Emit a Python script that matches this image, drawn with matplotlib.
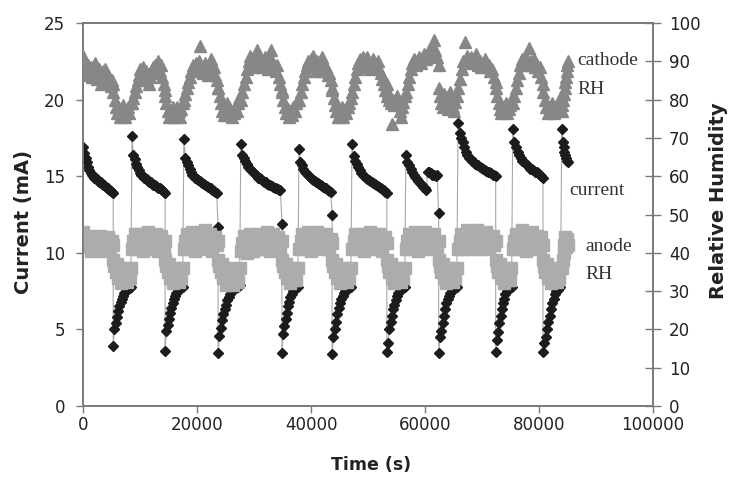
import numpy as np
import matplotlib.pyplot as plt

# phase boundaries (s): current spike (start of high phase) and drop (end of high phase)
spike_t = [0, 8600, 17700, 27700, 37900, 47200, 56650, 65800, 75400, 84000]
drop_t = [5300, 14400, 23700, 34900, 43700, 53300, 62400, 72400, 80700, 85100]

# current (mA) during each high phase, spike -> drop
cur_high = [
    [16.9, 16.5, 16.2, 15.9, 15.6, 15.4, 15.2, 15.1, 15.0, 14.9, 14.85, 14.8, 14.7, 14.65, 14.6, 14.5, 14.45, 14.4, 14.3, 14.25, 14.2, 14.1, 14.05, 14.0, 13.9],
    [17.6, 16.4, 16.1, 15.8, 15.6, 15.4, 15.2, 15.1, 15.0, 14.9, 14.85, 14.8, 14.7, 14.65, 14.6, 14.5, 14.45, 14.4, 14.35, 14.3, 14.25, 14.2, 14.15, 14.1, 14.0, 13.9],
    [17.4, 16.2, 15.9, 15.7, 15.5, 15.3, 15.1, 15.0, 14.9, 14.8, 14.75, 14.7, 14.6, 14.55, 14.5, 14.4, 14.35, 14.3, 14.25, 14.2, 14.1, 14.05, 14.0, 13.9, 11.7],
    [17.1, 16.4, 16.2, 16.0, 15.8, 15.6, 15.5, 15.4, 15.3, 15.2, 15.1, 15.0, 14.9, 14.85, 14.8, 14.7, 14.65, 14.6, 14.5, 14.45, 14.4, 14.35, 14.3, 14.25, 14.2, 14.15, 14.1, 14.1, 11.9],
    [16.8, 15.9, 15.7, 15.5, 15.3, 15.2, 15.1, 15.0, 14.9, 14.8, 14.75, 14.7, 14.6, 14.55, 14.5, 14.4, 14.35, 14.3, 14.25, 14.2, 14.1, 14.05, 14.0, 12.5],
    [17.1, 16.3, 16.0, 15.8, 15.6, 15.4, 15.2, 15.1, 15.0, 14.9, 14.8, 14.75, 14.7, 14.6, 14.55, 14.5, 14.4, 14.35, 14.3, 14.2, 14.15, 14.1, 14.0, 13.9],
    [16.4, 15.9, 15.7, 15.5, 15.3, 15.1, 14.95, 14.8, 14.7, 14.55, 14.4, 14.3, 14.2, 14.1, 15.3, 15.25, 15.2, 15.1, 15.05, 15.0, 15.1, 12.6],
    [18.5, 17.8, 17.5, 17.2, 16.9, 16.6, 16.4, 16.2, 16.1, 16.0, 15.9, 15.8, 15.75, 15.7, 15.6, 15.55, 15.5, 15.4, 15.35, 15.3, 15.25, 15.2, 15.1, 15.05, 15.0],
    [18.1, 17.2, 16.9, 16.6, 16.4, 16.2, 16.0, 15.9, 15.8, 15.7, 15.6, 15.5, 15.45, 15.4, 15.3, 15.25, 15.2, 15.1, 15.0, 14.9],
    [18.1, 17.2, 16.9, 16.6, 16.4, 16.2, 16.0, 15.9],
]
# current (mA) during each low phase, drop -> next spike
cur_low = [
    [3.9, 5.0, 5.4, 5.8, 6.2, 6.5, 6.8, 7.0, 7.2, 7.4, 7.5, 7.6, 7.7, 7.7, 7.8],
    [3.6, 4.9, 5.3, 5.7, 6.1, 6.4, 6.7, 7.0, 7.2, 7.4, 7.5, 7.6, 7.7, 7.8, 7.8],
    [3.45, 4.6, 5.1, 5.6, 6.0, 6.3, 6.6, 6.9, 7.1, 7.3, 7.5, 7.6, 7.7, 7.7, 7.8, 7.8, 7.9],
    [3.45, 4.7, 5.2, 5.7, 6.1, 6.5, 6.8, 7.1, 7.3, 7.5, 7.6, 7.7, 7.8, 7.8],
    [3.4, 4.5, 5.0, 5.5, 6.0, 6.4, 6.7, 7.0, 7.2, 7.4, 7.5, 7.6, 7.7, 7.8, 7.8],
    [3.5, 4.1, 5.0, 5.5, 5.9, 6.3, 6.6, 6.9, 7.2, 7.4, 7.5, 7.6, 7.7, 7.8, 7.8],
    [3.45, 4.5, 4.9, 5.4, 5.9, 6.3, 6.7, 7.0, 7.2, 7.4, 7.5, 7.6, 7.7, 7.8, 7.8],
    [3.5, 4.3, 4.8, 5.4, 5.9, 6.3, 6.7, 7.0, 7.3, 7.5, 7.6, 7.7, 7.8, 7.8],
    [3.5, 4.1, 4.5, 5.0, 5.5, 5.9, 6.3, 6.7, 7.0, 7.3, 7.5, 7.6, 7.7, 7.8],
]

# cathode RH (%) in each phase
cath_high = [
    [91.5, 89.5, 88, 86.5, 89, 87.5, 88.5, 86, 88, 89.5, 87, 85.5, 88, 86.5, 84, 87.5, 86, 88, 84.5, 86.5, 85, 83.5, 85, 84],
    [79, 80.5, 82, 83.5, 85, 86.5, 88, 87, 88.5, 86.5, 87.5, 85, 84, 86, 87.5, 88.5, 87, 89, 88, 90, 87.5, 89, 86, 84, 82.5],
    [80, 81.5, 83, 84.5, 86, 87.5, 89, 88, 89.5, 87.5, 90, 94, 88.5, 87, 89.5, 88, 86.5, 89, 90.5, 87, 88.5, 86.5, 85, 83],
    [80, 82, 84, 86, 88, 90, 91.5, 90, 88.5, 89.5, 93, 91, 90, 88.5, 89.5, 91, 90, 88, 91.5, 93, 90, 89, 87.5, 89, 86, 84, 82.5],
    [80, 82, 84, 86, 87.5, 89, 90, 88.5, 90.5, 91.5, 89, 87.5, 90, 88, 89.5, 91, 87.5, 89, 88.5, 86.5, 87, 85, 83],
    [82, 84, 86, 88, 89.5, 90.5, 89, 91, 88.5, 89.5, 91, 89, 88, 89.5, 90.5, 89, 88.5, 90, 88, 87, 85.5, 84, 82.5, 81],
    [82, 84, 86, 88, 89.5, 90.5, 89, 90, 91, 89.5, 90.5, 92, 90.5, 91.5, 93, 92, 94, 95.5, 93, 91, 89],
    [83, 85.5, 88, 90, 95, 91.5, 90, 91, 89.5, 90.5, 92, 89, 90, 88.5, 89.5, 90.5, 88.5, 89, 87.5, 88, 86, 84.5],
    [79, 81, 83, 85, 87, 89, 90.5, 89, 90, 91, 89.5, 93.5, 90, 89, 90.5, 88.5, 89, 87.5, 88.5, 86, 84],
    [77, 78.5, 80, 81.5, 83, 84.5, 86, 87.5, 89, 90],
]
cath_low = [
    [82, 80, 78, 76.5, 77.5, 75.5, 77, 78.5, 76, 75.5, 77, 78, 76.5, 79],
    [81, 79, 77, 75.5, 77, 76, 78, 75.5, 76.5, 78, 77, 75.5, 77.5, 79],
    [83, 81, 79, 77, 76, 77.5, 79, 76, 78, 77, 75.5, 76.5, 78, 77, 79, 80.5],
    [82, 80, 78, 76.5, 77.5, 75.5, 77, 76, 78, 77, 79, 80],
    [82.5, 80.5, 78.5, 77, 75.5, 77, 76, 78, 75.5, 77, 76.5, 78, 79, 80.5],
    [84, 82, 80, 79, 73.5, 80, 78.5, 80, 81, 79, 77, 75.5, 78, 79.5, 81],
    [83, 81, 79, 78, 81.5, 80, 79, 77.5, 80, 82, 79.5, 78, 77, 79.5, 81],
    [83, 81, 79, 77.5, 76.5, 78, 77, 79, 76.5, 77.5, 78.5, 80],
    [82, 80, 78, 76.5, 78, 77, 79, 76.5, 78, 77.5, 79, 80.5],
]

# anode RH (%) in each phase
an_high = [
    [45.5, 43.5, 41.5, 44.5, 42.5, 40.5, 44, 42, 43.5, 41, 44.5, 42.5, 40.5, 43.5, 42, 44, 41, 43, 42],
    [41, 43, 45, 42.5, 41, 43.5, 45, 42, 40.5, 44, 43, 41.5, 45.5, 42.5, 41, 44.5, 43, 41.5, 45, 42, 40.5, 43.5, 44.5, 42, 41, 43],
    [41, 43, 45, 42.5, 41, 44, 45.5, 42, 40.5, 44, 43, 41.5, 45.5, 42.5, 41, 46, 43, 41.5, 45, 42, 40.5, 43.5, 44, 42, 43],
    [40.5, 42.5, 44.5, 42, 40, 43.5, 45, 42, 40.5, 44, 43, 41, 45, 42.5, 41, 44.5, 43, 41.5, 45.5, 42, 40.5, 43.5, 45, 42, 41, 44, 42.5, 41.5, 43],
    [41, 43, 45, 42.5, 41, 44, 45.5, 42, 40.5, 44, 43, 41.5, 45.5, 42.5, 41, 44.5, 43, 41.5, 45, 42, 41, 43.5, 42.5],
    [41, 43, 45, 42.5, 41, 43.5, 45, 42, 40.5, 44, 43, 41.5, 45.5, 42.5, 41, 44.5, 43, 41.5, 45, 42, 40.5, 43.5, 44, 42.5],
    [41, 43, 45, 42.5, 41, 44, 45.5, 42, 40.5, 44, 43, 41.5, 45.5, 42.5, 41, 44.5, 43, 41.5, 45, 42, 41, 43],
    [41, 43, 45, 42.5, 41, 44, 46, 42.5, 41, 44.5, 43, 41.5, 46, 42.5, 41, 45, 43, 41.5, 45.5, 42, 41, 43.5, 44.5, 42, 43],
    [41, 43, 45, 42.5, 41, 44, 46, 42, 40.5, 44.5, 43, 41.5, 45.5, 42.5, 41, 44.5, 43, 41.5, 44, 42],
    [36, 38, 40, 42, 44, 41.5, 43.5, 42],
]
an_low = [
    [38, 36.5, 35, 37, 33.5, 35.5, 32, 34, 36, 33, 34.5, 32.5, 35, 33.5, 36],
    [38, 36.5, 35, 37, 33.5, 35.5, 32, 34, 36, 33, 34.5, 32.5, 35, 33.5, 36],
    [38, 36.5, 35, 37, 33.5, 35.5, 31.5, 33.5, 36, 32.5, 34.5, 31.5, 35, 33, 34.5, 32.5, 36],
    [38, 36.5, 35, 37, 33.5, 35.5, 32, 34, 36, 33, 34.5, 33, 36],
    [38, 36.5, 35, 37, 33.5, 35.5, 32, 34, 36, 33, 34.5, 32.5, 35, 33.5, 36],
    [38, 36.5, 35, 37, 33.5, 35.5, 32, 34, 36, 33, 34.5, 32.5, 35, 33.5, 36],
    [38, 36.5, 35, 37, 33.5, 35.5, 32, 34, 36, 33, 34.5, 32.5, 35, 33.5, 36],
    [38, 36.5, 35, 37, 33.5, 35.5, 32, 34, 36, 33, 34.5, 33, 36],
    [38, 36.5, 35, 37, 33.5, 35.5, 32, 34, 36, 33, 34.5, 32.5, 35, 33.5, 36],
]


def join_phases(high, low):
    t_all, v_all = [], []
    for i, vals in enumerate(high):
        t_all.append(np.linspace(spike_t[i], drop_t[i], len(vals)))
        v_all.append(np.array(vals, dtype=float))
        if i < len(low):
            lv = low[i]
            t_all.append(np.linspace(drop_t[i], spike_t[i + 1], len(lv) + 1)[:-1])
            v_all.append(np.array(lv, dtype=float))
    return np.concatenate(t_all), np.concatenate(v_all)


t_cur, current = join_phases(cur_high, cur_low)
t_cath, cathode = join_phases(cath_high, cath_low)
t_an, anode = join_phases(an_high, an_low)

fig = plt.figure(figsize=(7.3, 4.83), dpi=100)
ax = fig.add_axes([83 / 730, 77 / 483, 570 / 730, 383 / 483])
ax2 = ax.twinx()

ax.plot(t_cur, current, color="#a8a8a8", linewidth=0.8, zorder=2)
ax.plot(t_cur, current, linestyle="none", marker="D", markersize=5.5,
        color="#1c1c1c", zorder=3)

ax2.plot(t_an, anode, linestyle="none", marker="s", markersize=8.5,
         color="#acacac", zorder=2)
ax2.plot(t_cath, cathode, linestyle="none", marker="^", markersize=8.5,
         color="#878787", zorder=3)

ax.set_xlim(0, 100000)
ax.set_ylim(0, 25)
ax2.set_ylim(0, 100)
ax.set_xticks(np.arange(0, 100001, 20000))
ax.set_yticks(np.arange(0, 26, 5))
ax2.set_yticks(np.arange(0, 101, 10))

spine_col = "#7a7a7a"
for a in (ax, ax2):
    for s in a.spines.values():
        s.set_color(spine_col)
        s.set_linewidth(1.2)

ax.tick_params(axis="x", direction="out", length=5, width=1, color=spine_col,
               labelsize=12, pad=2, labelcolor="#222222")
ax.tick_params(axis="y", direction="out", length=5, width=1, color=spine_col,
               labelsize=12, pad=8, labelcolor="#222222")
ax2.tick_params(axis="y", direction="inout", length=11, width=1, color=spine_col,
                labelsize=12, pad=6, labelcolor="#222222")

fig.text(24 / 730, 1 - 222 / 483, "Current (mA)", rotation=90, ha="center",
         va="center", fontsize=14, fontweight="bold", color="#222222")
fig.text(719 / 730, 1 - 201 / 483, "Relative Humidity", rotation=90, ha="center",
         va="center", fontsize=14, fontweight="bold", color="#222222")
fig.text(371 / 730, 1 - 465 / 483, "Time (s)", ha="center", va="center",
         fontsize=12.5, fontweight="bold", color="#222222")

serif = dict(fontsize=14, family="Liberation Serif", color="#333333", va="baseline", ha="left")
ax2.text(86670, 89.0, "cathode", **serif)
ax2.text(86670, 81.5, "RH", **serif)
ax2.text(85260, 55.1, "current", **serif)
ax2.text(88070, 40.6, "anode", **serif)
ax2.text(88070, 33.2, "RH", **serif)

fig.savefig("out.png", dpi=100)
